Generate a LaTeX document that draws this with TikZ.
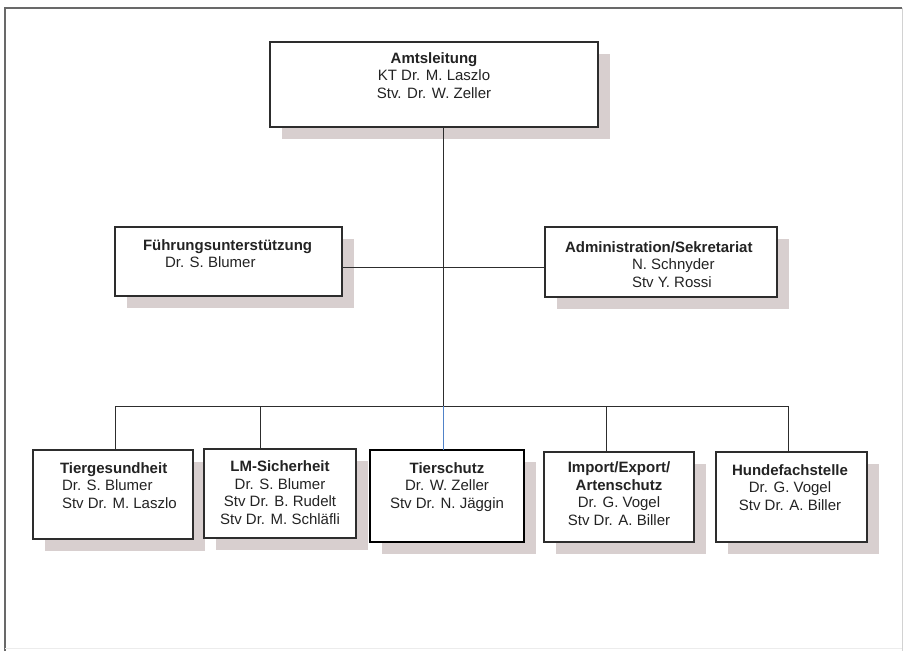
\documentclass[tikz,border=0pt]{standalone}
\usepackage{fontspec}
\setmainfont{Liberation Sans}
\definecolor{shadowc}{RGB}{216,207,207}
\definecolor{linec}{RGB}{45,45,45}
\definecolor{framec}{RGB}{105,105,105}
\definecolor{bluec}{RGB}{80,130,200}
\definecolor{txtc}{RGB}{35,35,35}
\tikzset{
  orgbox/.style={draw=linec, line width=1.4pt, fill=white, inner sep=0pt, outer sep=0pt},
  orgtxt/.style={inner sep=0pt, outer sep=0pt, text=txtc, font=\fontsize{15}{17.5}\selectfont},
  conn/.style={draw=linec, line width=1pt},
}
\newcommand{\orgunit}[6][]{%
  \fill[shadowc] (#3+12,#4+12) rectangle (#5+12,#6+12);
  \node[orgbox,#1,minimum width={#5-#3},minimum height={#6-#4}] (#2) at ({(#3+#5)/2},{(#4+#6)/2}) {};
}
\begin{document}
\begin{tikzpicture}[x=1pt,y=-1pt]
\useasboundingbox (0,0) rectangle (904,651);
\fill[white] (0,0) rectangle (904,651);
% frame
\draw[framec, line width=1.6pt] (5,651) -- (5,8) -- (902,8);
\draw[gray!35, line width=0.8pt] (902,8) -- (902,651);
\draw[gray!15, line width=0.8pt] (5,648) -- (902,648);
% boxes
\orgunit{amt}{270}{42}{598}{127}
\orgunit{fu}{115}{227}{342}{296}
\orgunit{ad}{545}{227}{777}{297}
\orgunit{tg}{33}{450}{193}{539}
\orgunit{lm}{204}{449}{356}{538}
\orgunit[line width=2pt, draw=black]{ts}{370}{450}{524}{542}
\orgunit{ie}{544}{452}{694}{542}
\orgunit{hf}{716}{452}{867}{542}
% connector points
\coordinate (jmid) at (443,267);
\coordinate (jbus) at (443,406);
\coordinate (d1) at (115,406);
\coordinate (d2) at (260,406);
\coordinate (d4) at (606,406);
\coordinate (d5) at (788,406);
% connectors
\draw[conn] (amt.south -| jbus) -- (jbus);
\draw[conn] (fu.east |- jmid) -- (ad.west |- jmid);
\draw[conn] (d1) -- (d5);
\draw[conn] (d1) -- (d1 |- tg.north);
\draw[conn] (d2) -- (d2 |- lm.north);
\draw[conn, draw=bluec] (jbus) -- (jbus |- ts.north);
\draw[conn] (d4) -- (d4 |- ie.north);
\draw[conn] (d5) -- (d5 |- hf.north);
% texts (anchor = baseline of last line)
\node[orgtxt, align=center, anchor=base] (amt-t) at (434,98)
  {\textbf{Amtsleitung}\\KT Dr. M. Laszlo\\Stv. Dr. W. Zeller};
\node[orgtxt, align=left, anchor=base west] (fu-t) at (143,267.5)
  {\textbf{Führungsunterstützung}\\\hspace*{22pt}Dr. S. Blumer};
\node[orgtxt, align=left, anchor=base west] (ad-t) at (565,287)
  {\textbf{Administration/Sekretariat}\\\hspace*{67pt}N. Schnyder\\\hspace*{67pt}Stv Y. Rossi};
\node[orgtxt, align=left, anchor=base west] (tg-t) at (60,508)
  {\textbf{Tiergesundheit}\\\hspace*{2pt}Dr. S. Blumer\\\hspace*{2pt}Stv Dr. M. Laszlo};
\node[orgtxt, align=center, anchor=base] (lm-t) at (280,524)
  {\textbf{LM-Sicherheit}\\Dr. S. Blumer\\Stv Dr. B. Rudelt\\Stv Dr. M. Schläfli};
\node[orgtxt, align=center, anchor=base] (ts-t) at (447,508)
  {\textbf{Tierschutz}\\Dr. W. Zeller\\Stv Dr. N. Jäggin};
\node[orgtxt, align=center, anchor=base] (ie-t) at (619,525)
  {\textbf{Import/Export/}\\\textbf{Artenschutz}\\Dr. G. Vogel\\Stv Dr. A. Biller};
\node[orgtxt, align=center, anchor=base] (hf-t) at (790,510)
  {\textbf{Hundefachstelle}\\Dr. G. Vogel\\Stv Dr. A. Biller};
\end{tikzpicture}
\end{document}
